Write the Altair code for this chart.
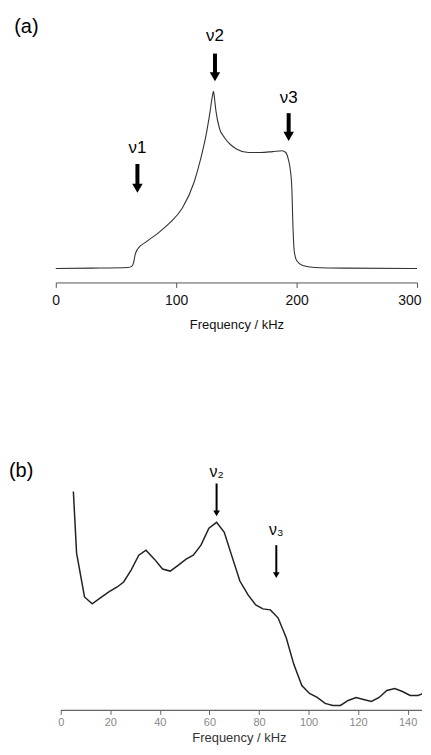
import altair as alt
import pandas as pd

# ---------- Panel (a) data ----------
freq_a = [0, 30, 60, 63, 64.5, 66, 68, 75, 85, 95, 105, 115, 120, 125, 128, 130, 131, 132, 133, 136, 140,
          145, 150, 160, 170, 180, 188, 191, 193, 194.5, 196, 197, 198, 200, 205, 215, 240, 300]
int_a = [0, 0.002, 0.006, 0.012, 0.03, 0.08, 0.11, 0.15, 0.20, 0.26, 0.34, 0.49, 0.61, 0.76, 0.88, 0.97, 1.0, 0.95, 0.89, 0.79, 0.74,
         0.70, 0.675, 0.655, 0.655, 0.66, 0.665, 0.655, 0.62, 0.57, 0.46, 0.23, 0.10, 0.045, 0.017, 0.006, 0.002, 0.0]

arrow_a_labels = ["ν1", "ν2", "ν3"]
arrow_a_x = [67.8, 132.2, 193.4]
arrow_a_top = [0.59, 1.2135, 0.877]
arrow_a_tip = [0.427, 1.056, 0.72]
label_a_y = [0.68, 1.31, 0.96]

# ---------- Panel (b) data ----------
freq_b = [5.1, 6.4, 9.6, 12.7, 16.0, 19.4, 22.8, 25.4, 28.4, 31.5, 34.4, 37.8, 41.1, 44.2, 47.5, 50.6, 53.5,
          56.6, 59.8, 62.9, 66.0, 69.2, 72.3, 75.6, 78.7, 81.6, 84.6, 87.7, 91.0, 94.1, 97.3, 100.4, 103.5,
          106.7, 109.8, 112.9, 116.0, 119.2, 122.2, 125.4, 128.5, 131.6, 134.8, 137.9, 141.0, 144.2, 147.3, 149.0]
int_b = [2.20, 1.58, 1.14, 1.07, 1.13, 1.19, 1.24, 1.29, 1.41, 1.56, 1.61, 1.52, 1.42, 1.40, 1.46, 1.52, 1.56,
         1.66, 1.83, 1.89, 1.79, 1.54, 1.30, 1.16, 1.06, 1.02, 1.01, 0.93, 0.73, 0.46, 0.25, 0.17, 0.13,
         0.07, 0.05, 0.05, 0.10, 0.13, 0.11, 0.09, 0.13, 0.20, 0.22, 0.19, 0.15, 0.15, 0.18, 0.19]

arrow_b_labels = ["ν₂", "ν₃"]
arrow_b_x = [62.9, 87.0]
arrow_b_top = [2.28, 1.66]
arrow_b_tip = [1.95, 1.33]
label_b_y = [2.40, 1.81]

ticks_a = [0, 100, 200, 300]
ticks_b = [0, 20, 40, 60, 80, 100, 120, 140]

FONT = "Liberation Sans"
XB_MAX = 145.8

# ---------- Panel (a) ----------
df_a = pd.DataFrame({"f": freq_a, "i": int_a})
arr_a = pd.DataFrame({"f": arrow_a_x, "top": arrow_a_top, "tip": arrow_a_tip,
                      "head": [t + 0.026 for t in arrow_a_tip], "ly": label_a_y, "lab": arrow_a_labels})
xa = alt.X("f:Q", scale=alt.Scale(domain=[0, 300], nice=False),
           axis=alt.Axis(values=ticks_a, title="Frequency / kHz", grid=False, tickSize=5,
                         domainColor="#555", tickColor="#555", labelColor="#111", labelFontSize=14,
                         labelFont=FONT, titleFont=FONT, titleFontSize=13, titleFontWeight="normal",
                         titleColor="#111", labelPadding=6, titlePadding=11,
                         labelFlush=True, labelFlushOffset=4))
ya_scale = alt.Scale(domain=[-0.0787, 1.4607], nice=False, zero=False)
ya = alt.Y("i:Q", scale=ya_scale, axis=None)

line_a = alt.Chart(df_a).mark_line(color="#333", strokeWidth=1.1, interpolate="monotone").encode(x=xa, y=ya)
shaft_a = alt.Chart(arr_a).mark_rule(color="black", strokeWidth=4).encode(
    x=alt.X("f:Q"), y=alt.Y("top:Q", scale=ya_scale, axis=None), y2=alt.Y2("head:Q"))
head_a = alt.Chart(arr_a).mark_point(shape="triangle-down", filled=True, color="black", size=110, opacity=1).encode(
    x="f:Q", y=alt.Y("head:Q", scale=ya_scale, axis=None))
lab_a = alt.Chart(arr_a).mark_text(fontSize=17, font=FONT, color="black", baseline="middle").encode(
    x="f:Q", y=alt.Y("ly:Q", scale=ya_scale, axis=None), text="lab:N")
tag_a = alt.Chart(pd.DataFrame({"f": [-24.4], "i": [1.365], "t": ["(a)"]})).mark_text(
    fontSize=20, font=FONT, color="black", baseline="middle").encode(
    x="f:Q", y=alt.Y("i:Q", scale=ya_scale, axis=None), text="t:N")

top = alt.layer(line_a, shaft_a, head_a, lab_a, tag_a).properties(width=363, height=274)

# ---------- Panel (b) ----------
df_b = pd.DataFrame({"f": freq_b, "i": int_b})
arr_b = pd.DataFrame({"f": arrow_b_x, "top": arrow_b_top, "tip": arrow_b_tip,
                      "head": [t + 0.03 for t in arrow_b_tip], "ly": label_b_y, "lab": arrow_b_labels})
xb_scale = alt.Scale(domain=[-2, XB_MAX], nice=False)
xb = alt.X("f:Q", scale=xb_scale,
           axis=alt.Axis(values=ticks_b, title="Frequency / kHz", grid=False, tickSize=4, domain=False,
                         tickColor="#666", labelColor="#888", labelFontSize=11, labelFont=FONT,
                         titleFont=FONT, titleFontSize=13, titleFontWeight="normal", titleColor="#333",
                         labelPadding=2, titlePadding=4, labelFlush=False))
yb_scale = alt.Scale(domain=[0, 2.50], nice=False, zero=False)

line_b = alt.Chart(df_b).mark_line(color="#222", strokeWidth=1.5, clip=True).encode(
    x=xb, y=alt.Y("i:Q", scale=yb_scale, axis=None))
axis_line_b = alt.Chart(pd.DataFrame({"a": [0], "b": [XB_MAX], "y": [0]})).mark_rule(color="#666", strokeWidth=1.2).encode(
    x=alt.X("a:Q", scale=xb_scale), x2="b:Q", y=alt.Y("y:Q", scale=yb_scale, axis=None))
shaft_b = alt.Chart(arr_b).mark_rule(color="black", strokeWidth=2).encode(
    x=alt.X("f:Q", scale=xb_scale), y=alt.Y("top:Q", scale=yb_scale, axis=None), y2=alt.Y2("head:Q"))
head_b = alt.Chart(arr_b).mark_point(shape="triangle-down", filled=True, color="black", size=45, opacity=1).encode(
    x=alt.X("f:Q", scale=xb_scale), y=alt.Y("head:Q", scale=yb_scale, axis=None))
lab_b = alt.Chart(arr_b).mark_text(fontSize=16, font=FONT, color="black", baseline="middle").encode(
    x=alt.X("f:Q", scale=xb_scale), y=alt.Y("ly:Q", scale=yb_scale, axis=None), text="lab:N")
tag_b = alt.Chart(pd.DataFrame({"f": [-15.98], "i": [2.41], "t": ["(b)"]})).mark_text(
    fontSize=20, font=FONT, color="black", baseline="middle").encode(
    x=alt.X("f:Q", scale=xb_scale), y=alt.Y("i:Q", scale=yb_scale, axis=None), text="t:N")

bottom = alt.layer(axis_line_b, line_b, shaft_b, head_b, lab_b, tag_b).properties(width=368, height=250)

chart = alt.vconcat(top, bottom, spacing=129).properties(padding=0).configure_view(stroke=None)

chart.save("out.html", embed_options={"renderer": "svg", "actions": False})
